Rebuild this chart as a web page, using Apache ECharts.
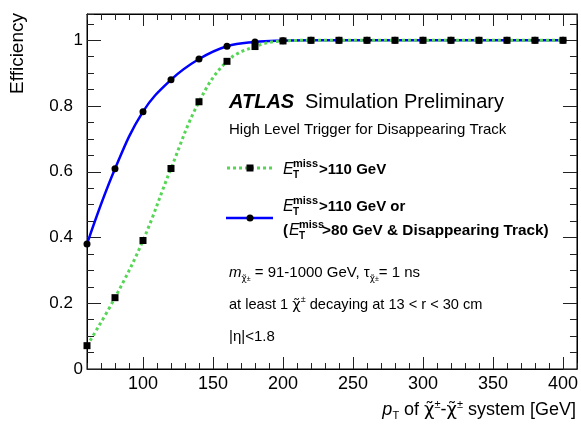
<!DOCTYPE html>
<html>
<head>
    <meta charset="utf-8">
    <title>HLT disappearing track efficiency</title>
    <script src="https://cdn.jsdelivr.net/npm/echarts@6/dist/echarts.min.js"></script>
    <style>
        html, body { margin: 0; padding: 0; background: #fff; }
        #main { width: 581px; height: 428px; }
    </style>
</head>
<body>
    <div id="main"></div>
    <script>
        // pT of the chargino-chargino system [GeV]
        var pT = [60, 80, 100, 120, 140, 160, 180, 200, 220, 240, 260, 280, 300, 320, 340, 360, 380, 400];
        // ETmiss > 110 GeV
        var effMet = [0.071, 0.217, 0.391, 0.610, 0.813, 0.936, 0.981, 0.998, 1, 1, 1, 1, 1, 1, 1, 1, 1, 1];
        // ETmiss > 110 GeV or (ETmiss > 80 GeV & disappearing track)
        var effOr = [0.380, 0.609, 0.783, 0.880, 0.943, 0.982, 0.995, 0.999, 1, 1, 1, 1, 1, 1, 1, 1, 1, 1];

        var xMajorTicks = [100, 150, 200, 250, 300, 350, 400];
        var yMajorTicks = [0, 0.2, 0.4, 0.6, 0.8, 1];
        var yLabelsWide = [0.2, 0.4, 0.6, 0.8];
        var yLabelsNarrow = [0, 1];

        var FONT = 'Liberation Sans, Arial, sans-serif';
        var GREEK = 'DejaVu Sans, sans-serif';
        var GREEN = '#55d655';
        var BLUE = '#0000ff';

        function pairs(xs, ys) {
            return xs.map(function (x, i) { return [x, ys[i]]; });
        }

        function txt(x, y, text, font, extra) {
            var st = { x: x, y: y, text: text, font: font, fill: '#000', textVerticalAlign: 'middle' };
            if (extra) for (var k in extra) st[k] = extra[k];
            return { type: 'text', silent: true, style: st };
        }

        // E_T^miss written ROOT style: italic E, bold T below, bold "miss" above
        function etmiss(x, y) {
            return [
                txt(x, y, 'E', 'italic 16px ' + FONT),
                txt(x + 10, y + 5, 'T', 'bold 10px ' + FONT),
                txt(x + 10, y - 6, 'miss', 'bold 11px ' + FONT)
            ];
        }

        function xAx(pos, major) {
            var a = {
                type: 'value', position: pos, min: 60, max: 410,
                splitLine: { show: false },
                axisLine: { show: !major, onZero: false, lineStyle: { color: '#000', width: 1 } }
            };
            if (major) {
                a.axisTick = { inside: true, length: 12, customValues: xMajorTicks, lineStyle: { color: '#222' } };
                a.axisLabel = pos === 'bottom'
                    ? { customValues: xMajorTicks, fontSize: 18, fontFamily: FONT, color: '#000', margin: 6 }
                    : { show: false };
            } else {
                a.interval = 10;
                a.axisTick = { inside: true, length: 6, lineStyle: { color: '#222' } };
                a.axisLabel = { show: false };
            }
            return a;
        }

        function yAx(pos, kind) {
            var a = {
                type: 'value', position: pos, min: 0, max: 1.08,
                splitLine: { show: false },
                axisLine: { show: kind === 'minor', onZero: false, lineStyle: { color: '#000', width: 1 } },
                axisLabel: { show: false },
                axisTick: { show: false }
            };
            if (kind === 'minor') {
                a.interval = 0.05;
                a.axisTick = { show: true, inside: true, length: 7, lineStyle: { color: '#222' } };
            } else if (kind === 'major') {
                a.axisTick = { show: true, inside: true, length: 14, customValues: yMajorTicks, lineStyle: { color: '#222' } };
                if (pos === 'left') {
                    a.axisLabel = { customValues: yLabelsWide, fontSize: 17, fontFamily: FONT, color: '#000', margin: 14 };
                }
            } else if (kind === 'edge') {
                a.axisLabel = { customValues: yLabelsNarrow, fontSize: 17, fontFamily: FONT, color: '#000', margin: 4 };
            }
            return a;
        }

        var graphics = [
            // axis titles
            {
                type: 'text', silent: true, x: 18, y: 13, rotation: Math.PI / 2,
                style: { x: 0, y: 0, text: 'Efficiency', font: '19px ' + FONT, fill: '#000',
                         textAlign: 'right', textVerticalAlign: 'middle' }
            },
            {
                type: 'text', silent: true,
                style: {
                    x: 576, y: 410, textAlign: 'right', textVerticalAlign: 'middle',
                    text: '{p|p}{sub|T}{n| of }{c|χ̃}{sup|±}{n|-}{c|χ̃}{sup|±}{n| system [GeV]}',
                    rich: {
                        p: { font: 'italic 18px ' + FONT, fill: '#000', lineHeight: 22 },
                        n: { font: '18px ' + FONT, fill: '#000', lineHeight: 22 },
                        c: { font: '18px ' + GREEK, fill: '#000', lineHeight: 22 },
                        sub: { font: '11px ' + FONT, fill: '#000', lineHeight: 10, verticalAlign: 'bottom' },
                        sup: { font: '11px ' + FONT, fill: '#000', lineHeight: 12, verticalAlign: 'top' }
                    }
                }
            },
            // ATLAS label
            txt(229, 102, 'ATLAS', 'italic bold 20px ' + FONT),
            txt(305, 102, 'Simulation Preliminary', '20px ' + FONT),
            txt(229, 130, 'High Level Trigger for Disappearing Track', '15px ' + FONT),
            // legend: ETmiss > 110 GeV
            { type: 'line', silent: true, shape: { x1: 227, y1: 168, x2: 272, y2: 168 },
              style: { stroke: GREEN, lineWidth: 3, lineDash: [3, 3] } },
            { type: 'rect', silent: true, shape: { x: 246.5, y: 164.5, width: 7, height: 7 }, style: { fill: '#000' } },
            txt(319, 170, '>110 GeV', 'bold 15px ' + FONT),
            // legend: OR trigger
            { type: 'line', silent: true, shape: { x1: 226, y1: 218, x2: 273, y2: 218 },
              style: { stroke: BLUE, lineWidth: 2.5 } },
            { type: 'circle', silent: true, shape: { cx: 250, cy: 218, r: 3.5 }, style: { fill: '#000' } },
            txt(319, 207, '>110 GeV or', 'bold 15px ' + FONT),
            txt(283, 231, '(', 'bold 15px ' + FONT),
            txt(322, 231, '>80 GeV & Disappearing Track)', 'bold 15.3px ' + FONT),
            // selection text
            {
                type: 'text', silent: true,
                style: {
                    x: 229, y: 273, textVerticalAlign: 'middle',
                    text: '{i|m}{s|χ̃}{t|±}{n| = 91-1000 GeV, τ}{s|χ̃}{t|±}{n|= 1 ns}',
                    rich: {
                        i: { font: 'italic 15px ' + FONT, fill: '#000', lineHeight: 20 },
                        n: { font: '15px ' + FONT, fill: '#000', lineHeight: 20 },
                        s: { font: '9px ' + GREEK, fill: '#000', lineHeight: 9, verticalAlign: 'bottom' },
                        t: { font: '7px ' + FONT, fill: '#000', lineHeight: 14, verticalAlign: 'bottom' }
                    }
                }
            },
            {
                type: 'text', silent: true,
                style: {
                    x: 229, y: 305, textVerticalAlign: 'middle',
                    text: '{n|at least 1 }{c|χ̃}{t|±}{n| decaying at 13 < r < 30 cm}',
                    rich: {
                        n: { font: '14.6px ' + FONT, fill: '#000', lineHeight: 20 },
                        c: { font: '14.6px ' + GREEK, fill: '#000', lineHeight: 20 },
                        t: { font: '9px ' + FONT, fill: '#000', lineHeight: 12, verticalAlign: 'top' }
                    }
                }
            },
            txt(229, 337, '|η|<1.8', '15px ' + FONT)
        ];
        graphics = graphics.concat(etmiss(283, 170), etmiss(283, 207), etmiss(289, 231));

        var chart = echarts.init(document.getElementById('main'), null, { renderer: 'canvas' });
        chart.setOption({
            animation: false,
            backgroundColor: '#fff',
            grid: { left: 87, right: 4, top: 14, bottom: 59, show: true, borderColor: '#000', borderWidth: 1, backgroundColor: 'transparent' },
            xAxis: [xAx('bottom', false), xAx('bottom', true), xAx('top', false), xAx('top', true)],
            yAxis: [yAx('left', 'minor'), yAx('left', 'major'), yAx('left', 'edge'), yAx('right', 'minor'), yAx('right', 'major')],
            series: [
                {
                    name: 'ETmiss>110 GeV or (ETmiss>80 GeV & Disappearing Track)',
                    type: 'line', xAxisIndex: 0, yAxisIndex: 0,
                    data: pairs(pT, effOr),
                    smooth: 0.4,
                    symbol: 'circle', symbolSize: 7,
                    lineStyle: { color: BLUE, width: 2.5 },
                    itemStyle: { color: '#000' },
                    emphasis: { disabled: true },
                    z: 2
                },
                {
                    name: 'ETmiss>110 GeV',
                    type: 'line', xAxisIndex: 0, yAxisIndex: 0,
                    data: pairs(pT, effMet),
                    smooth: 0.4,
                    symbol: 'rect', symbolSize: 7,
                    lineStyle: { color: GREEN, width: 3, type: [3, 3] },
                    itemStyle: { color: '#000' },
                    emphasis: { disabled: true },
                    z: 3
                }
            ],
            graphic: graphics
        });
    </script>
</body>
</html>
